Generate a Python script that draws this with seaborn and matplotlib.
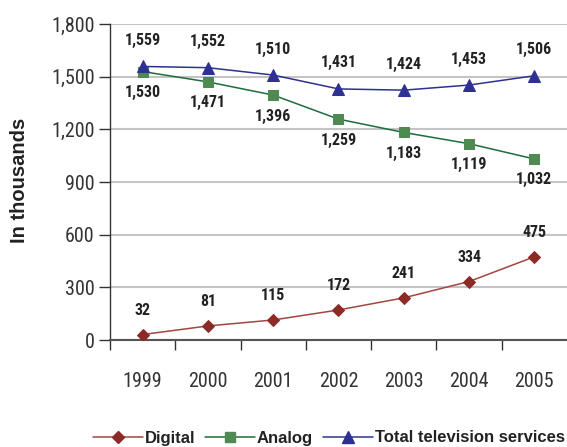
import matplotlib
matplotlib.use("Agg")
import matplotlib.pyplot as plt
import seaborn as sns
import pandas as pd
from matplotlib.lines import Line2D

years = ["1999", "2000", "2001", "2002", "2003", "2004", "2005"]
digital = [32, 81, 115, 172, 241, 334, 475]
analog = [1530, 1471, 1396, 1259, 1183, 1119, 1032]
total = [1559, 1552, 1510, 1431, 1424, 1453, 1506]
yticks = [0, 300, 600, 900, 1200, 1500, 1800]

sns.set_theme(style="white")
plt.rcParams["font.family"] = ["Liberation Sans", "DejaVu Sans"]
narrow = ["Roboto Condensed", "DejaVu Sans"]

df = pd.DataFrame({"year": years, "x": range(len(years)),
                   "Digital": digital, "Analog": analog,
                   "Total television services": total})
long = df.melt(id_vars=["year", "x"], var_name="series", value_name="value")

fig = plt.figure(figsize=(5.67, 4.47), dpi=100)
ax = fig.add_axes([0.194, 0.239, 0.806, 0.707])

styles = {
    "Digital": dict(line="#a4453f", face="#8c2a26", marker="D", ms=6.5),
    "Analog": dict(line="#1f6b3e", face="#4e8a52", marker="s", ms=7.5),
    "Total television services": dict(line="#2e3192", face="#2e3192", marker="^", ms=8.5),
}

for name, st in styles.items():
    sub = long[long.series == name]
    sns.lineplot(data=sub, x="x", y="value", ax=ax, color=st["line"], lw=1.1,
                 marker=st["marker"], markersize=st["ms"],
                 markerfacecolor=st["face"], markeredgecolor=st["face"],
                 legend=False, zorder=3)

lab_font = dict(family=narrow, fontsize=11.5, fontweight="bold", color="#222222",
                ha="center", va="center")
for i, v in enumerate(digital):
    ax.annotate(f"{v:,}", (i, v), xytext=(0, 24), textcoords="offset pixels", **lab_font)
for i, v in enumerate(analog):
    ax.annotate(f"{v:,}", (i, v), xytext=(0, -21), textcoords="offset pixels", **lab_font)
for i, v in enumerate(total):
    ax.annotate(f"{v:,}", (i, v), xytext=(0, 26), textcoords="offset pixels", **lab_font)

tick_font = dict(family=narrow, fontsize=14.5, fontweight="normal", color="#333333")
ax.set_xlim(-0.5, 6.5)
ax.set_ylim(0, 1800)
ax.set_yticks(yticks)
ax.set_yticklabels([f"{t:,}" for t in yticks], **tick_font)
ax.set_xticks(range(len(years)))
ax.set_xticklabels(years, **tick_font)
ax.set_xticks([i + 0.5 for i in range(-1, 6)], minor=True)
ax.tick_params(axis="x", which="major", length=0, pad=23)
ax.tick_params(axis="x", which="minor", length=7, width=1, color="#333333", direction="out", bottom=True)
ax.tick_params(axis="y", which="major", length=8, width=1, color="#333333", direction="out", left=True, pad=3)

ax.grid(axis="y", color="#c4c4c4", lw=1.5)
ax.grid(axis="x", visible=False)
for side in ["top", "right"]:
    ax.spines[side].set_visible(False)
ax.spines["left"].set_color("#333333")
ax.spines["left"].set_linewidth(1)
ax.spines["bottom"].set_color("#555555")
ax.spines["bottom"].set_linewidth(1.5)

ax.set_xlabel("")
ax.set_ylabel("")
fig.text(20 / 567, 1 - 180 / 447, "In thousands", rotation=90, ha="center", va="center",
         fontsize=14.5, fontweight="bold", color="#222222")

handles = [Line2D([], [], color=st["line"], lw=1.1, marker=st["marker"], markersize=st["ms"],
                  markerfacecolor=st["face"], markeredgecolor=st["face"])
           for st in styles.values()]
leg = fig.legend(handles, list(styles.keys()), loc="center", bbox_to_anchor=(329 / 567, 1 - 438 / 447),
                 ncol=3, frameon=False, handlelength=3.0, handletextpad=0.1, columnspacing=0.6,
                 prop=dict(size=12, weight="bold"), borderpad=0)
for t in leg.get_texts():
    t.set_color("#222222")

fig.savefig("out.png", dpi=100)
